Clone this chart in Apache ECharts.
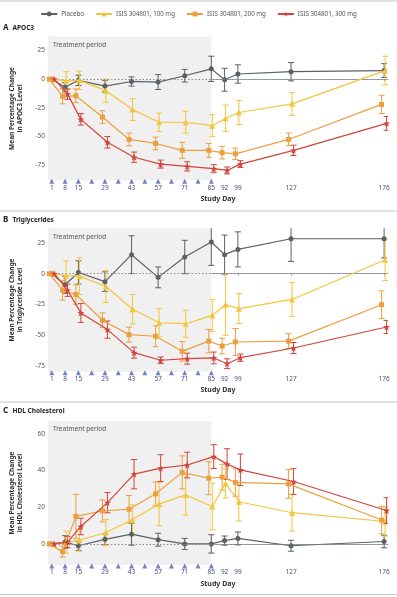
<!DOCTYPE html>
<html>
<head>
<meta charset="utf-8">
<script src="https://cdn.jsdelivr.net/npm/echarts@6/dist/echarts.min.js"></script>
<style>
  html, body { margin: 0; padding: 0; background: #fff; }
  #chart { width: 397px; height: 597px; }
</style>
</head>
<body>
<div id="chart"></div>
<script>
// study days with measurements, weekly dosing days, axis labels
const days = [1, 8, 15, 29, 43, 57, 71, 85, 92, 99, 127, 176];
const dosingDays = [1, 8, 15, 22, 29, 36, 43, 50, 57, 64, 71, 78, 85];
const dayLabels = [1, 8, 15, 29, 43, 57, 71, 85, 92, 99, 127, 176];
const dayTicks = [92, 99, 127, 176];
const groupNames = ['Placebo', 'ISIS 304801, 100 mg', 'ISIS 304801, 200 mg', 'ISIS 304801, 300 mg'];

// A - APOC3 (mean % change, +/- error)
const apoc3Placebo = [0, -7, -1, -6, -2, -2.5, 3, 9, -0.5, 4.5, 6.5, 7.5];
const apoc3PlaceboErr = [0, 4, 4.5, 5, 4, 6.5, 5.5, 11, 10, 8, 8, 6];
const apoc3Dose100 = [0, -1.5, -1, -10, -26.5, -37.5, -37.5, -40.5, -34, -29, -21.5, 7.5];
const apoc3Dose100Err = [0, 8, 8, 10, 9.5, 8, 9.5, 9.5, 11.5, 10.5, 10, 12.5];
const apoc3Dose200 = [0, -15, -14.5, -33, -52.5, -56, -62, -62, -64, -65, -52.5, -22];
const apoc3Dose200Err = [0, 6.5, 6, 5.5, 5.5, 5.5, 7, 6, 5.5, 5, 5.5, 8];
const apoc3Dose300 = [0, -13, -35, -55, -68, -74, -76, -78, -79.5, -74, -62, -38.5];
const apoc3Dose300Err = [0, 4.5, 5, 5, 4.5, 3.5, 4, 3.5, 3, 3, 4.5, 6];

// B - Triglycerides
const tgPlacebo = [0, -9, 1, -6.5, 15.5, -3, 13.6, 25.8, 15.5, 19.8, 28.5, 28.5];
const tgPlaceboErr = [0, 7, 9.5, 8, 15.4, 8.5, 13.6, 19, 16, 14.3, 18.5, 15.7];
const tgDose100 = [0, -1.5, -2, -10.5, -29, -40, -40.8, -34, -25.3, -28.5, -21, 11.4];
const tgDose100Err = [0, 12, 15, 13, 12, 11.5, 11, 13, 25, 12.2, 13.9, 17];
const tgDose200 = [0, -13.5, -17, -38, -49.7, -51, -63.3, -55, -59, -55.7, -55, -25.3];
const tgDose200Err = [0, 8, 8, 6, 6, 8.5, 8, 9.5, 6.4, 11, 6, 11.3];
const tgDose300 = [0, -13.5, -32, -45.6, -64.4, -70.6, -69.3, -68.7, -73.4, -68.5, -60.6, -43.5];
const tgDose300Err = [0, 5, 7.7, 7, 4.5, 2.7, 4.5, 4.8, 4, 3, 4.5, 5.4];

// C - HDL cholesterol
const hdlPlacebo = [0, 1, -1, 2.5, 5.3, 2.3, 0, 0, 1.8, 3, -1, 1.3];
const hdlPlaceboErr = [0, 3.5, 2.5, 3, 6, 3.5, 3, 5, 2.5, 3.5, 3, 3.4];
const hdlDose100 = [0, 1, 2, 6.2, 13.3, 21.8, 26.7, 20.4, 33, 23, 17, 12.2];
const hdlDose100Err = [0, 6, 6, 7, 8, 11.8, 11, 12.7, 8, 10.5, 10, 8];
const hdlDose200 = [0, -4.2, 15, 18, 18.9, 27.3, 39, 35.8, 36.4, 33.5, 32.7, 13];
const hdlDose200Err = [0, 3, 12, 6, 7.5, 6.5, 9, 9, 7, 7.5, 7.8, 7.5];
const hdlDose300 = [0, 1, 9.5, 22.5, 38, 41.3, 43, 47.6, 43.5, 40.4, 34, 18.2];
const hdlDose300Err = [0, 3, 4.5, 5.5, 8, 7.3, 7, 6.5, 8.4, 8.6, 7, 7];

const apoc3Ticks = [-75, -50, -25, 0, 25];
const tgTicks = [-75, -50, -25, 0, 25];
const hdlTicks = [0, 20, 40, 60];

const X_MIN = -1, X_MAX = 178;
const FONT = '"Noto Sans", "Liberation Sans", sans-serif';
const colors = ['#5c6064', '#f2c53a', '#ec9f3f', '#d3443a'];
const STAR = 'path://M0,-10 L2.4,-3.3 L9.5,-3.1 L3.8,1.2 L5.9,8.1 L0,4 L-5.9,8.1 L-3.8,1.2 L-9.5,-3.1 L-2.4,-3.3 Z';
const symbols = ['circle', 'triangle', 'rect', STAR];
const symbolSizes = [5, 6, 5, 7];
const jitter = [0, 1, -2.5, 2.5]; // px shift so bars at one day don't sit on top of each other

const panels = [
  { letter: 'A', title: 'APOC3', yName: 'Mean Percentage Change\nin APOC3 Level',
    vals: [apoc3Placebo, apoc3Dose100, apoc3Dose200, apoc3Dose300],
    errs: [apoc3PlaceboErr, apoc3Dose100Err, apoc3Dose200Err, apoc3Dose300Err],
    yMin: -88, yMax: 37, ticks: apoc3Ticks, top: 36.7, height: 143.5, titleY: 23.5 },
  { letter: 'B', title: 'Triglycerides', yName: 'Mean Percentage Change\nin Triglyceride Level',
    vals: [tgPlacebo, tgDose100, tgDose200, tgDose300],
    errs: [tgPlaceboErr, tgDose100Err, tgDose200Err, tgDose300Err],
    yMin: -80, yMax: 37, ticks: tgTicks, top: 228.3, height: 143.5, titleY: 215.5 },
  { letter: 'C', title: 'HDL Cholesterol', yName: 'Mean Percentage Change\nin HDL Cholesterol Level',
    vals: [hdlPlacebo, hdlDose100, hdlDose200, hdlDose300],
    errs: [hdlPlaceboErr, hdlDose100Err, hdlDose200Err, hdlDose300Err],
    yMin: -11.5, yMax: 67, ticks: hdlTicks, top: 421, height: 144, titleY: 406.5 }
];

const GRID_LEFT = 45.5, GRID_RIGHT = 9.1;
const pxPerDay = (397 - GRID_LEFT - GRID_RIGHT) / (X_MAX - X_MIN);

const grid = [], xAxis = [], yAxis = [], series = [], graphic = [];

panels.forEach((p, g) => {
  grid.push({ left: GRID_LEFT, right: GRID_RIGHT, top: p.top, height: p.height });

  // one visible x axis per panel, plus hidden shifted copies for the jitter
  jitter.forEach((px, s) => {
    const shift = px / pxPerDay;
    if (s === 0) {
      xAxis.push({
        type: 'value', gridIndex: g, min: X_MIN, max: X_MAX,
        name: 'Study Day', nameLocation: 'middle', nameGap: 15,
        nameTextStyle: { fontFamily: FONT, fontSize: 7, fontWeight: 'bold', color: '#333' },
        axisLine: { lineStyle: { color: '#98a2bf', width: 1 } },
        axisTick: { show: true, length: 2, lineStyle: { color: '#98a2bf' }, customValues: dayTicks },
        axisLabel: { fontFamily: FONT, fontSize: 6.5, color: '#44527f', margin: 4, customValues: dayLabels },
        splitLine: { show: false }
      });
    } else {
      xAxis.push({ type: 'value', gridIndex: g, min: X_MIN - shift, max: X_MAX - shift, show: false });
    }
  });

  yAxis.push({
    type: 'value', gridIndex: g, min: p.yMin, max: p.yMax,
    name: p.yName, nameLocation: 'middle', nameGap: 24, nameRotate: 90,
    nameTextStyle: { fontFamily: FONT, fontSize: 6.5, fontWeight: 'bold', color: '#333', lineHeight: 8 },
    axisLine: { show: true, lineStyle: { color: '#a0a0a0', width: 1 } },
    axisTick: { show: true, length: 2, lineStyle: { color: '#a0a0a0' }, customValues: p.ticks },
    axisLabel: { fontFamily: FONT, fontSize: 6.5, color: '#555', margin: 3, customValues: p.ticks },
    splitLine: { show: false }
  });

  p.vals.forEach((vals, s) => {
    const xi = g * 4 + s;
    const color = colors[s];
    const line = {
      type: 'line', name: groupNames[s], xAxisIndex: xi, yAxisIndex: g,
      data: days.map((d, i) => [d, vals[i]]),
      symbol: symbols[s], symbolSize: symbolSizes[s], showSymbol: true,
      lineStyle: { color, width: 1.2 }, itemStyle: { color },
      z: 4 + s, animation: false
    };
    if (s === 0) {
      line.markArea = {
        silent: true,
        itemStyle: { color: '#f0f0f0' },
        label: { show: true, position: 'insideTopLeft', distance: 5,
                 fontFamily: FONT, fontSize: 6.5, color: '#555' },
        data: [[{ name: 'Treatment period', xAxis: X_MIN }, { xAxis: 85 }]]
      };
      line.markLine = {
        silent: true, symbol: 'none', label: { show: false },
        lineStyle: { color: '#8a8a8a', type: [1.5, 2], width: 1 },
        data: [{ yAxis: 0 }]
      };
    }
    series.push(line);

    const errs = p.errs[s];
    series.push({
      type: 'custom', name: groupNames[s] + ' error', xAxisIndex: xi, yAxisIndex: g,
      clip: true, z: 3 + s, silent: true, animation: false,
      data: days.map((d, i) => [d, vals[i], errs[i]]),
      encode: { x: 0, y: 1 },
      renderItem: (params, api) => {
        const e = api.value(2);
        if (!e) return null;
        const x = api.value(0), y = api.value(1);
        const hi = api.coord([x, y + e]), lo = api.coord([x, y - e]);
        const cap = 3;
        const style = { stroke: color, lineWidth: 1 };
        return { type: 'group', children: [
          { type: 'line', shape: { x1: hi[0], y1: hi[1], x2: lo[0], y2: lo[1] }, style },
          { type: 'line', shape: { x1: hi[0] - cap, y1: hi[1], x2: hi[0] + cap, y2: hi[1] }, style },
          { type: 'line', shape: { x1: lo[0] - cap, y1: lo[1], x2: lo[0] + cap, y2: lo[1] }, style }
        ] };
      }
    });
  });

  // dosing markers on the day axis
  series.push({
    type: 'scatter', name: 'dosing', xAxisIndex: g * 4, yAxisIndex: g,
    data: dosingDays.map(d => [d, p.yMin]),
    symbol: 'triangle', symbolSize: [5, 5], symbolOffset: [0, 1],
    itemStyle: { color: '#4a64b6' }, clip: false, silent: true, z: 8, animation: false
  });

  graphic.push(
    { type: 'text', left: 3, top: p.titleY, style: { text: p.letter, font: `bold 8px ${FONT}`, fill: '#222' } },
    { type: 'text', left: 12.5, top: p.titleY + 0.8, style: { text: p.title, font: `bold 6.5px ${FONT}`, fill: '#222' } }
  );
});

[1, 211, 402, 594.5].forEach(y => {
  graphic.push({ type: 'line', shape: { x1: 0, y1: y, x2: 397, y2: y },
                 style: { stroke: '#c4c4c4', lineWidth: 1 }, silent: true });
});

const chart = echarts.init(document.getElementById('chart'), null, { renderer: 'canvas' });
chart.setOption({
  backgroundColor: '#fff',
  animation: false,
  legend: {
    data: groupNames, top: 6, left: 'center',
    itemWidth: 16, itemHeight: 6, itemGap: 11,
    textStyle: { fontFamily: FONT, fontSize: 6.2, color: '#555', padding: [0, 0, 0, -1] }
  },
  grid, xAxis, yAxis, series, graphic
});
</script>
</body>
</html>
